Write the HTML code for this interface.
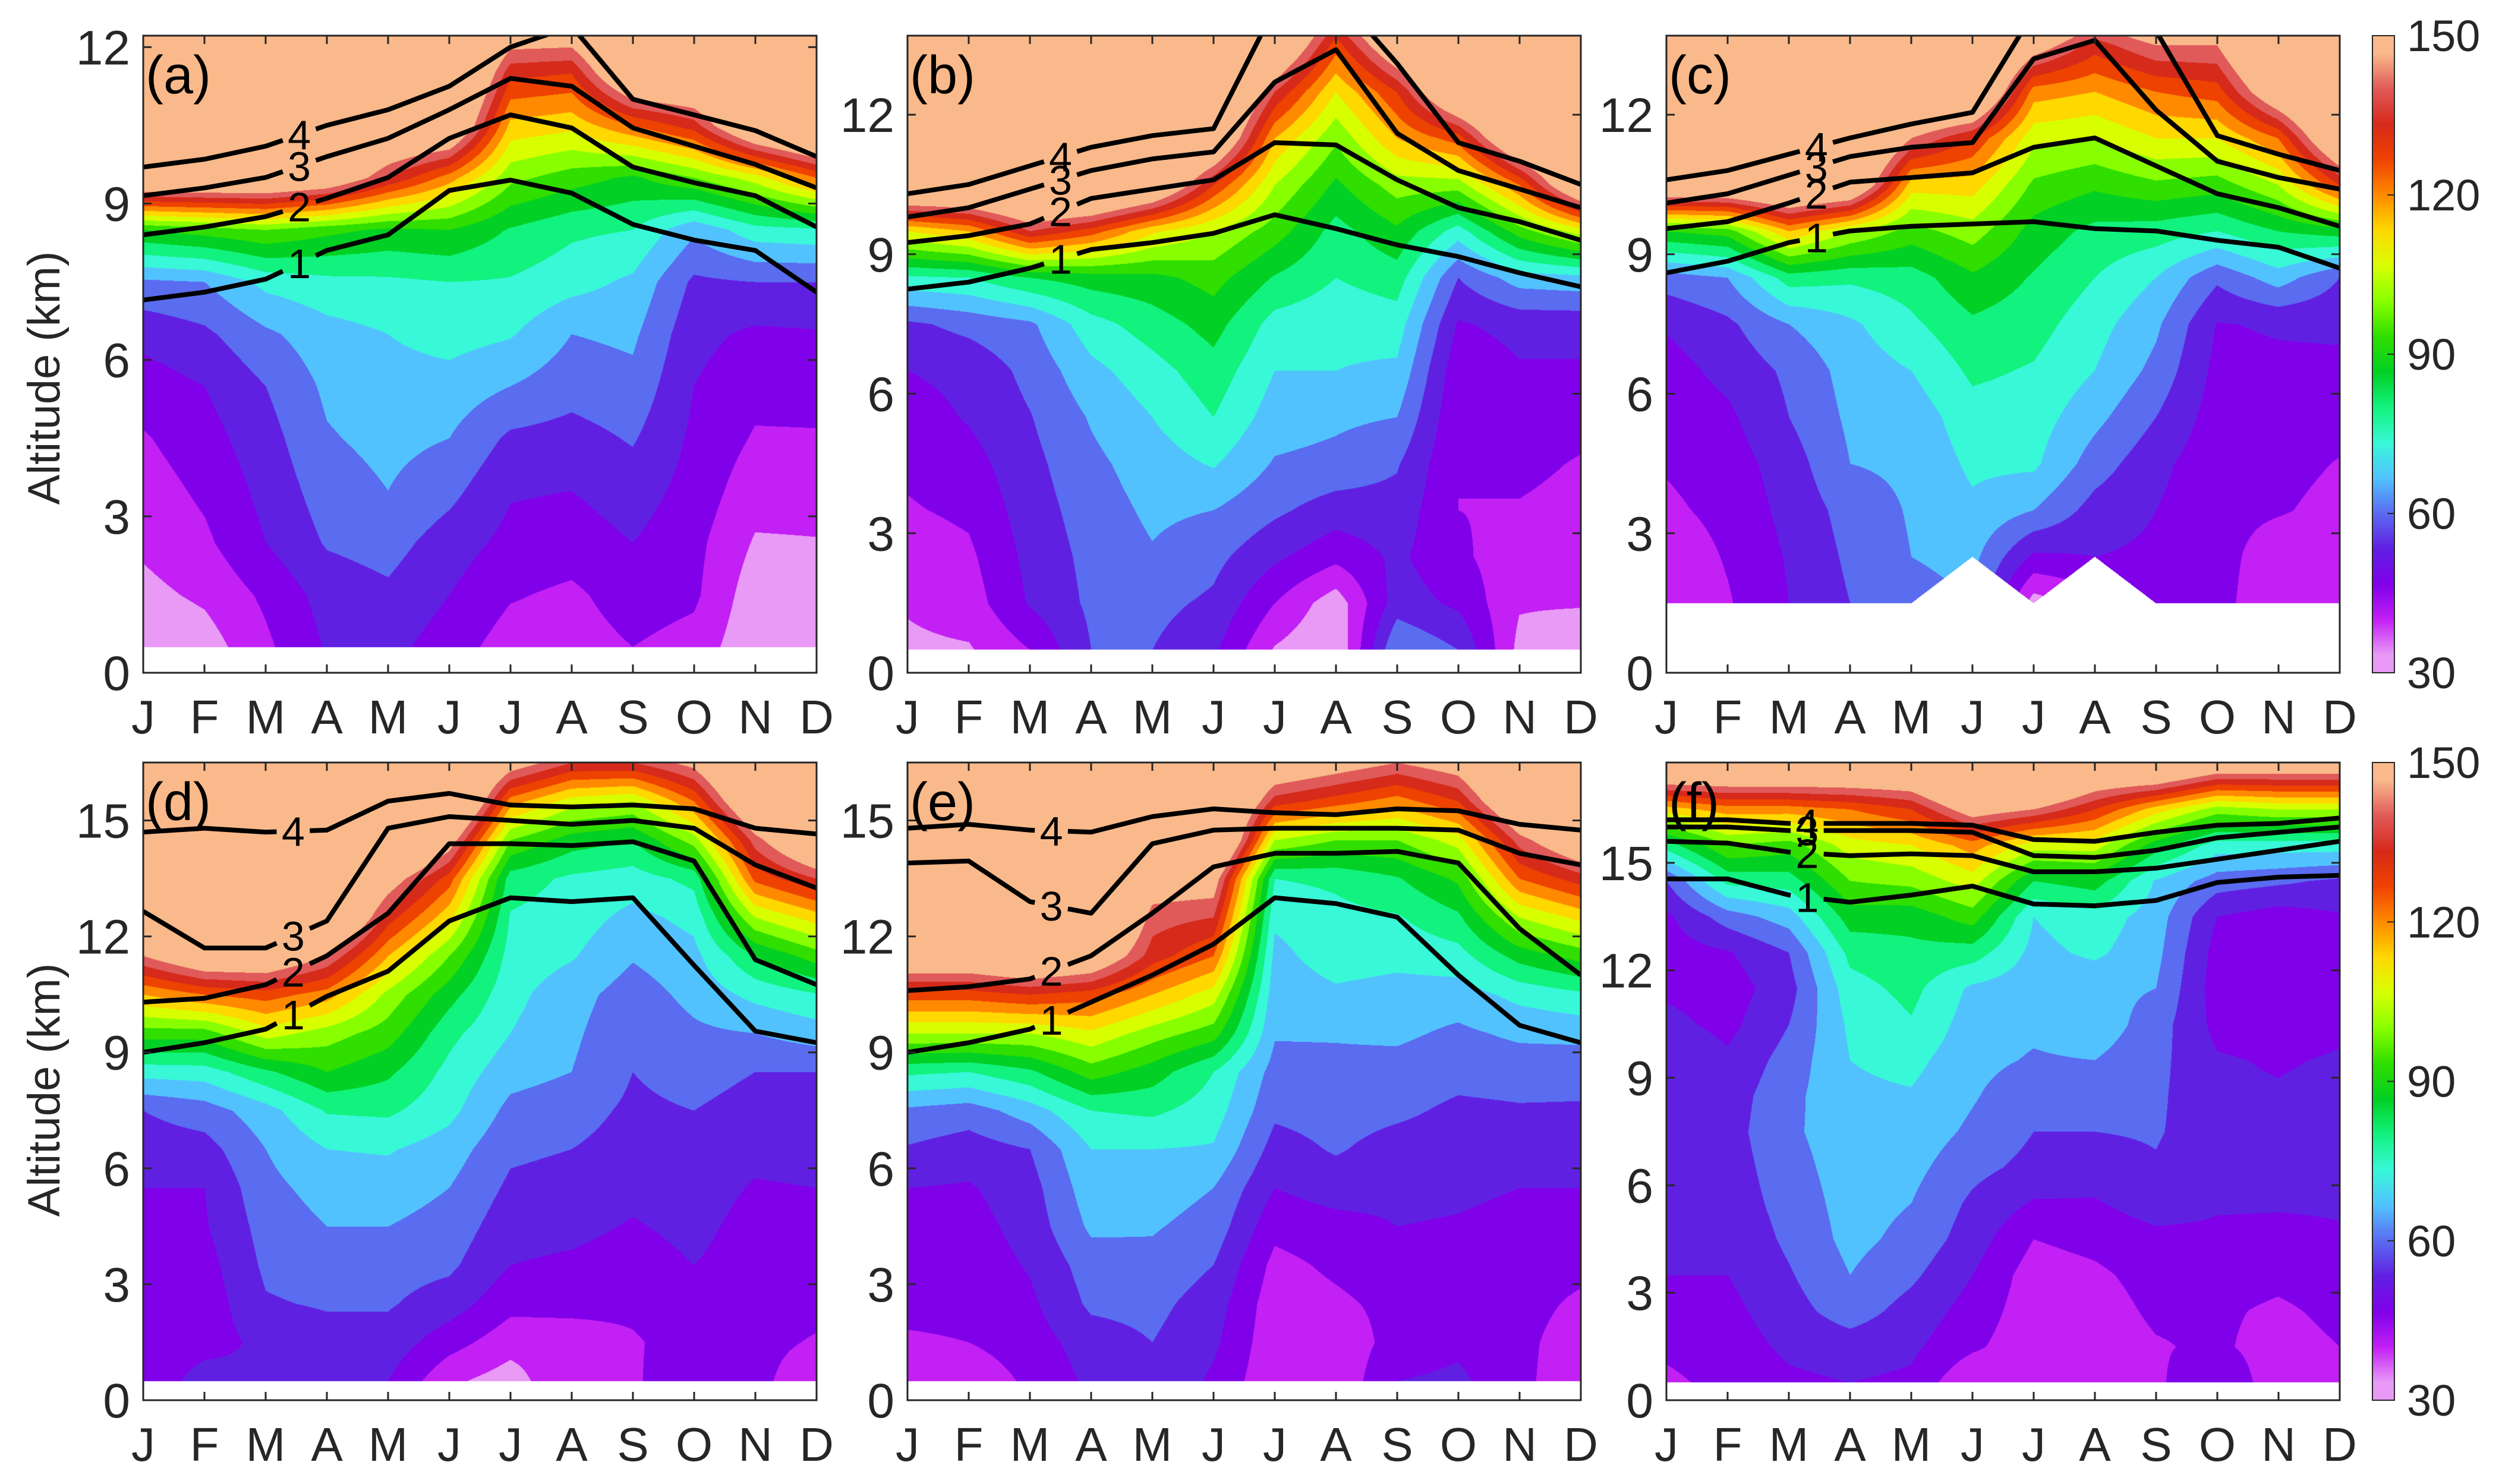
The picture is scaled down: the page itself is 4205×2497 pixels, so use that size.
<!DOCTYPE html>
<html><head><meta charset="utf-8">
<style>
html,body{margin:0;padding:0;background:#fff;}
#root{position:relative;width:4205px;height:2497px;overflow:hidden;background:#fff;font-family:"Liberation Sans",Arial,sans-serif;}
canvas{position:absolute;}
svg{position:absolute;left:0;top:0;}
</style></head>
<body>
<div id="root"></div>
<script>
// ---- data (ozone, in colour-band units: band k spans 30+6.67k .. 30+6.67(k+1) ppb) ----
const months = ['J','F','M','A','M','J','J','A','S','O','N','D'];
const cbTicks = [30,60,90,120,150];
const topTicks = [0,3,6,9,12];
const botTicks = [0,3,6,9,12,15];
const lineLabels = ['1','2','3','4'];

const altsA = [0.5,1.5,2.5,3.5,4.5,5.5,6.5,7.5,8.5,9.5,10.5,11.5,12.5];
const o3A = [
[0.0,0.7,1.2,1.5,1.9,2.5,3.3,4.8,9.0,20,22,22,22],
[0.5,1.2,1.8,2.2,2.6,3.0,3.8,5.0,9.5,20,22,22,22],
[1.8,2.2,3.0,3.3,3.6,4.0,4.8,6.3,10,20,22,22,22],
[3.1,3.4,4.1,4.5,4.9,5.2,5.6,6.7,9.3,19,22,22,22],
[3.3,3.8,4.4,5.0,5.3,5.6,6.0,6.8,8.8,16,20,22,22],
[2.5,3.0,3.5,4.3,5.0,5.6,6.4,7.0,9.0,13.5,20,22,22],
[1.5,2.1,2.7,3.1,3.8,5.0,6.1,6.9,7.9,10.3,12.7,15.3,19],
[1.5,1.8,2.5,3.0,3.6,4.4,5.0,6.4,7.2,9.5,12.3,15,19],
[2.0,2.5,3.0,3.5,4.1,4.7,5.2,5.8,7.0,8.8,14,20,22],
[1.6,2.2,2.3,2.6,2.8,3.0,3.3,3.8,5.2,10,15.5,20,22],
[0.2,0.4,0.9,1.4,1.9,2.3,2.8,4.0,6.6,11.5,20,22,22],
[0.2,0.5,0.95,1.4,1.9,2.4,2.9,4.0,6.8,14,22,22,22]];
const floorA = [0.5,0.5,0.5,0.5,0.5,0.5,0.5,0.5,0.5,0.5,0.5,0.5];
const tpA1 = [7.15,7.3,7.55,8.1,8.4,9.25,9.45,9.2,8.6,8.3,8.1,7.3];
const tpA2 = [8.4,8.55,8.75,9.1,9.5,10.25,10.7,10.45,9.7,9.4,9.15,8.55];
const tpA3 = [9.15,9.3,9.5,9.9,10.25,10.8,11.4,11.25,10.45,10.1,9.75,9.3];
const tpA4 = [9.7,9.85,10.1,10.5,10.8,11.25,12.0,12.4,11.0,10.7,10.4,9.9];

const altsB = [0.5,1.5,2.5,3.5,4.5,5.5,6.5,7.5,8.5,9.5,10.5,11.5,12.5,13.5,14.5];
const o3B = [
[0.8,1.1,1.4,1.9,2.2,2.5,3.0,3.8,6.8,12,21,22,22,22,22],
[0.9,1.5,1.8,2.2,2.6,3.1,3.3,4.3,7.0,13,21,22,22,22,22],
[2.0,3.1,3.3,3.5,3.7,3.95,4.3,4.8,8.0,16,22,22,22,22,22],
[4.0,4.2,4.3,4.5,4.75,5.1,5.7,6.6,8.5,14.5,22,22,22,22,22],
[4.0,4.3,4.9,5.2,5.5,6.0,6.6,7.5,8.7,12.2,20,22,22,22,22],
[3.2,3.8,4.3,5.0,6.1,7.0,7.6,8.4,9.4,11.0,15,20,22,22,22],
[0.9,2.0,3.2,4.2,4.9,5.5,6.0,6.6,7.9,9.5,11.0,13,16,20,22],
[0.0,0.4,2.3,3.5,4.7,5.2,6.0,6.3,7.0,7.6,8.8,10.2,12,14.5,18],
[5.0,3.5,3.2,3.6,4.1,5.0,5.8,6.5,7.5,8.8,10.5,13,15,19,22],
[4.0,2.8,2.2,2.0,2.0,2.1,2.3,2.9,4.0,6.5,10.5,14.5,20,22,22],
[0.7,1.1,1.4,1.9,2.3,2.6,2.9,3.3,5.5,9.5,14,20,22,22,22],
[0.1,1.1,1.3,1.6,1.9,2.4,2.9,3.3,5.7,11.5,20,22,22,22,22]];
const floorB = [0.5,0.5,0.5,0.5,0.5,0.5,0.5,0.5,0.5,0.5,0.5,0.5];
const tpB1 = [8.25,8.4,8.7,9.1,9.25,9.45,9.85,9.55,9.2,8.95,8.6,8.3];
const tpB2 = [9.25,9.4,9.65,10.2,10.4,10.6,11.4,11.35,10.6,10.0,9.7,9.3];
const tpB3 = [9.8,10.0,10.4,10.8,11.05,11.2,12.7,13.4,11.6,10.8,10.4,10.0];
const tpB4 = [10.3,10.5,10.9,11.3,11.55,11.7,14.3,14.6,13.1,11.4,11.0,10.5];

const altsC = [0.5,1.5,2.5,3.5,4.5,5.5,6.5,7.5,8.5,9.5,10.5,11.5,12.5,13.5,14.5];
const o3C = [
[1.0,1.0,1.3,1.8,2.1,2.3,2.6,3.1,4.5,9.0,20,22,22,22,22],
[1.9,1.9,2.1,2.3,2.5,2.8,3.3,3.8,5.0,9.5,20,22,22,22,22],
[3.0,3.0,3.1,3.3,3.5,4.0,4.2,5.0,7.5,13,21,22,22,22,22],
[4.0,4.0,4.2,4.4,5.0,5.2,5.4,5.8,7.2,11,20,22,22,22,22],
[4.6,4.6,5.0,5.1,5.2,5.4,6.0,6.8,7.5,9.6,12.5,17,21,22,22],
[5.0,5.0,5.3,5.8,6.2,6.6,7.2,7.8,8.8,10.5,12.5,15,21,22,22],
[0.5,0.5,2.8,5.0,6.2,6.5,6.9,7.4,7.9,8.6,9.8,11.3,13.5,18,22],
[1.5,1.5,3.0,3.6,4.5,5.3,6.0,6.4,7.0,7.7,9.2,11.0,13.0,15.5,19],
[2.0,2.0,2.8,3.0,3.3,4.0,4.7,5.2,6.0,7.5,9.8,12,14,17,21],
[2.4,2.4,2.4,2.3,2.3,2.5,2.7,2.95,4.2,7.0,9.5,12,14.5,17,21],
[1.1,1.1,1.4,2.1,2.3,2.5,2.8,3.1,5.5,8.0,11,14,19,22,22],
[1.3,1.3,1.5,1.7,1.95,2.3,2.75,3.2,4.0,8.5,15,20,22,22,22]];
const floorC = [1.5,1.5,1.5,1.5,1.5,2.5,1.5,2.5,1.5,1.5,1.5,1.5];
const tpC1 = [8.6,8.85,9.25,9.5,9.6,9.65,9.7,9.55,9.5,9.3,9.15,8.7];
const tpC2 = [9.55,9.7,10.1,10.55,10.65,10.75,11.3,11.5,10.9,10.3,10.0,9.6];
const tpC3 = [10.1,10.3,10.7,11.1,11.3,11.4,13.2,13.6,12.1,11.0,10.65,10.4];
const tpC4 = [10.6,10.8,11.15,11.5,11.8,12.05,14.2,15.0,13.8,11.55,11.15,10.8];

const altsD = [0.5,1.5,2.5,3.5,4.5,5.5,6.5,7.5,8.5,9.5,10.5,11.5,12.5,13.5,14.5,15.5,16.5,17.5];
const o3D = [
[2.0,2.2,2.3,2.4,2.6,3.0,3.5,4.0,6.4,9.5,13,17,21,22,22,22,22,22],
[3.6,2.5,2.4,2.6,2.9,3.0,3.6,4.5,6.5,9.5,14,19,22,22,22,22,22,22],
[3.1,3.3,3.9,4.2,4.4,4.7,5.0,5.6,7.8,11.5,14.5,19,22,22,22,22,22,22],
[3.3,3.6,4.1,4.5,5.0,5.4,6.0,7.1,9.0,10.5,13.5,17,21,22,22,22,22,22],
[3.0,3.6,4.1,4.4,5.0,5.5,6.1,7.2,8.2,9.5,10.7,13,15.5,18,22,22,22,22],
[1.2,2.4,3.5,4.2,4.6,5.0,5.5,6.3,6.7,7.3,8.4,10,12.3,14.5,18,22,22,22],
[0.5,1.4,2.3,3.0,3.4,3.8,4.2,4.7,5.4,6.0,6.3,6.6,6.9,7.5,10,13.5,18,22],
[2.0,1.5,2.3,2.8,3.3,3.6,4.0,4.4,5.0,5.2,5.4,6.1,6.5,6.8,8.5,11.5,16,20],
[1.8,1.9,2.2,2.5,2.9,3.3,3.6,3.8,4.0,4.2,4.5,5.1,5.7,6.5,8,11,16,20],
[3.0,2.4,2.5,3.0,3.3,3.5,3.7,4.0,4.4,4.8,5.3,5.7,6.3,7.3,10.5,14,17.5,21],
[2.3,2.3,2.4,2.5,2.6,2.9,3.3,3.6,4.0,5.0,6.3,8.0,11,14.3,16.5,20,22,22],
[1.3,1.9,2.3,2.5,2.7,3.0,3.4,3.8,4.0,5.5,6.9,9.5,12.5,16,20,22,22,22]];
const floorD = [0.5,0.5,0.5,0.5,0.5,0.5,0.5,0.5,0.5,0.5,0.5,0.5];
const tpD1 = [9.0,9.25,9.6,10.45,11.1,12.4,13.0,12.9,13.0,11.25,9.55,9.25];
const tpD2 = [10.3,10.4,10.75,11.5,12.6,14.4,14.4,14.35,14.45,13.95,11.4,10.75];
const tpD3 = [12.65,11.7,11.7,12.4,14.8,15.1,15.0,14.9,15.0,14.8,13.85,13.25];
const tpD4 = [14.7,14.8,14.7,14.75,15.5,15.7,15.4,15.35,15.4,15.3,14.8,14.65];

const altsE = [0.5,1.5,2.5,3.5,4.5,5.5,6.5,7.5,8.5,9.5,10.5,11.5,12.5,13.5,14.5,15.5,16.5,17.5];
const o3E = [
[1.3,1.9,2.2,2.4,2.6,3.0,3.9,4.8,7.2,11,14.5,19,22,22,22,22,22,22],
[1.3,2.0,2.2,2.4,2.6,2.9,3.5,4.5,7.0,11,14.5,19,22,22,22,22,22,22],
[2.2,2.5,2.8,3.1,3.4,3.6,4.0,5.5,7.8,11,15,20,22,22,22,22,22,22],
[3.2,3.5,4.2,4.5,5.2,5.6,6.0,7.0,9.5,11.8,14.5,19,22,22,22,22,22,22],
[4.0,4.0,4.3,4.7,5.1,5.5,6.0,7.2,8.5,10.5,13,15.5,16.5,18,22,22,22,22],
[2.8,3.2,3.5,4.0,4.6,5.0,5.9,6.5,7.0,9.5,11.5,14,16,18,22,22,22,22],
[1.2,1.3,1.4,1.7,2.3,3.0,3.6,4.2,4.6,5.1,5.4,5.7,6.2,7.0,11,15.5,19,22],
[1.2,1.3,1.8,2.2,2.6,3.5,4.1,4.4,4.7,5.1,5.8,6.5,6.7,7.2,10,14.5,18,21],
[3.0,2.4,2.3,2.6,3.0,3.3,3.6,4.2,4.6,5.2,5.6,6.3,6.9,7.9,10,13.5,17,21],
[3.2,2.8,2.4,2.5,2.9,3.2,3.5,3.8,4.3,4.8,5.5,6.6,7.8,9.2,11.5,15,18,21],
[2.3,2.3,2.4,2.5,2.7,3.0,3.4,3.9,4.4,5.2,6.3,8.4,11,14,16.5,20,22,22],
[1.2,1.4,1.8,2.3,2.6,3.0,3.4,3.9,4.3,5.3,6.8,9.4,12.3,15.5,19,22,22,22]];
const floorE = [0.5,0.5,0.5,0.5,0.5,0.5,0.5,0.5,0.5,0.5,0.5,0.5];
const tpE1 = [9.0,9.25,9.6,10.3,11.0,11.8,13.0,12.85,12.5,11.0,9.7,9.25];
const tpE2 = [10.6,10.7,10.9,11.5,12.6,13.8,14.15,14.15,14.2,13.9,12.2,11.0];
const tpE3 = [13.9,13.95,12.9,12.6,14.4,14.75,14.8,14.8,14.8,14.75,14.15,13.85];
const tpE4 = [14.8,14.9,14.75,14.7,15.1,15.3,15.2,15.15,15.3,15.25,14.9,14.75];

const altsF = [0.5,1.5,2.5,3.5,4.5,5.5,6.5,7.5,8.5,9.5,10.5,11.5,12.5,13.5,14.5,15.5,16.5,17.5,18.5];
const o3F = [
[1.8,2.2,2.5,3.0,3.1,3.2,3.2,3.3,3.5,3.9,3.3,2.8,2.5,2.8,4.0,7.5,12.5,19,22],
[2.3,2.5,2.7,3.0,3.2,3.4,3.5,3.6,3.5,3.2,2.7,2.5,2.9,4.5,7.3,10,13.5,19,22],
[2.8,3.2,3.6,3.9,4.2,4.4,4.6,4.8,4.7,4.4,4.0,3.6,4.0,5.5,7.5,9.5,13.5,19,22],
[3.0,3.5,4.5,5.0,5.3,5.4,5.5,5.6,5.8,6.0,6.2,6.6,7.3,8.5,10,11.5,14,19,22],
[2.8,3.2,3.6,4.2,4.7,5.0,5.3,5.6,5.9,6.3,6.9,7.3,7.7,8.4,10.3,12,15,19,22],
[1.0,2.2,2.6,3.0,3.5,3.8,4.3,4.8,5.1,5.3,5.5,5.8,7.5,9.5,11.5,13.5,18,22,22],
[1.2,1.3,1.4,1.5,2.0,2.9,3.7,4.0,4.3,4.9,5.2,5.4,5.7,6.0,8.0,11.5,17,22,22],
[1.2,1.3,1.5,1.8,2.3,2.9,3.5,4.0,4.7,5.0,5.6,5.3,6.2,6.6,8.5,11.5,15,19,22],
[1.8,1.9,2.2,2.4,2.7,3.5,3.9,4.1,4.2,4.3,4.5,5.0,5.3,5.5,5.9,8.5,12.5,19,22],
[3.0,2.2,2.2,2.5,2.8,3.1,3.3,3.4,3.2,3.1,2.7,2.5,2.6,3.0,4.5,6.5,10.5,17,22],
[1.3,1.5,1.8,2.3,2.7,3.1,3.2,3.2,3.1,2.9,2.5,2.2,2.2,2.5,4.2,6.5,11,17,22],
[1.4,2.0,2.3,2.6,2.9,3.1,3.2,3.3,3.3,3.1,2.8,2.5,2.6,2.9,3.8,6.5,11,17,22]];
const floorF = [0.5,0.5,0.5,0.5,0.5,0.5,0.5,0.5,0.5,0.5,0.5,0.5];
const tpF1 = [14.55,14.55,14.1,13.9,14.1,14.35,13.85,13.8,13.95,14.45,14.6,14.65];
const tpF2 = [15.6,15.55,15.3,15.2,15.25,15.2,14.75,14.75,14.85,15.1,15.35,15.6];
const tpF3 = [16.0,16.0,15.9,15.9,15.9,15.85,15.2,15.15,15.35,15.7,15.85,16.0];
const tpF4 = [16.2,16.2,16.1,16.1,16.1,16.05,15.65,15.6,15.85,16.05,16.1,16.25];

const bandColors = ['#E89AF6','#C220F4','#8000EA','#6020E2','#5A6CF0','#52C2FF','#38F8D8','#12F27E','#02D024','#30DE00','#88FF00','#D8FF00','#FFD800','#FF8A00','#EE4200','#D62A1A','#E05A5A','#F9B98A'];

const panels = [
 {key:'a', x:241, y:60, w:1133, h:1072, ymax:12.22, ticks:topTicks, alts:altsA, o3:o3A, floor:floorA, tp:[tpA1,tpA2,tpA3,tpA4], lab:2.55},
 {key:'b', x:1527, y:60, w:1133, h:1072, ymax:13.7, ticks:topTicks, alts:altsB, o3:o3B, floor:floorB, tp:[tpB1,tpB2,tpB3,tpB4], lab:2.5},
 {key:'c', x:2804, y:60, w:1133, h:1072, ymax:13.7, ticks:topTicks, alts:altsC, o3:o3C, floor:floorC, tp:[tpC1,tpC2,tpC3,tpC4], lab:2.45},
 {key:'d', x:241, y:1283, w:1133, h:1073, ymax:16.5, ticks:botTicks, alts:altsD, o3:o3D, floor:floorD, tp:[tpD1,tpD2,tpD3,tpD4], lab:2.45},
 {key:'e', x:1527, y:1283, w:1133, h:1073, ymax:16.5, ticks:botTicks, alts:altsE, o3:o3E, floor:floorE, tp:[tpE1,tpE2,tpE3,tpE4], lab:2.35},
 {key:'f', x:2804, y:1283, w:1133, h:1073, ymax:17.8, ticks:botTicks, alts:altsF, o3:o3F, floor:floorF, tp:[tpF1,tpF2,tpF3,tpF4], lab:2.3}
];

const NS = 'http://www.w3.org/2000/svg';
const root = document.getElementById('root');
function hex(c){return [parseInt(c.slice(1,3),16),parseInt(c.slice(3,5),16),parseInt(c.slice(5,7),16)];}
const rgb = bandColors.map(hex);

function lerpArr(arr, m){ const i=Math.min(10,Math.floor(m)); const t=m-i; return arr[i]*(1-t)+arr[i+1]*t; }

// --- filled contours on canvas ---
panels.forEach(p=>{
  const cv=document.createElement('canvas');
  cv.width=p.w; cv.height=p.h;
  cv.style.left=p.x+'px'; cv.style.top=p.y+'px';
  
  
  root.appendChild(cv);
  const ctx=cv.getContext('2d');
  const img=ctx.createImageData(p.w,p.h);
  const d=img.data;
  const a0=p.alts[0], da=p.alts[1]-p.alts[0], na=p.alts.length;
  for(let i=0;i<p.w;i++){
    const m=i/(p.w-1)*11;
    const mi=Math.min(10,Math.floor(m)), mt=m-mi;
    const fl=lerpArr(p.floor,m);
    const c0=p.o3[mi], c1=p.o3[mi+1];
    for(let j=0;j<p.h;j++){
      const alt=(p.h-j)/p.h*p.ymax;
      const o=(j*p.w+i)*4;
      if(alt<fl){d[o]=255;d[o+1]=255;d[o+2]=255;d[o+3]=255;continue;}
      let k=(alt-a0)/da; if(k<0)k=0; if(k>na-1.0001)k=na-1.0001;
      const ki=Math.floor(k), kt=k-ki;
      const v0=c0[ki]*(1-kt)+c0[ki+1]*kt;
      const v1=c1[ki]*(1-kt)+c1[ki+1]*kt;
      const v=v0*(1-mt)+v1*mt;
      let b=Math.floor(v); if(b<0)b=0; if(b>17)b=17;
      const c=rgb[b];
      d[o]=c[0];d[o+1]=c[1];d[o+2]=c[2];d[o+3]=255;
    }
  }
  ctx.putImageData(img,0,0);
});

// --- SVG overlay ---
const svg=document.createElementNS(NS,'svg');
svg.setAttribute('width','4205'); svg.setAttribute('height','2497');


root.appendChild(svg);
function el(tag,attrs,parent){const e=document.createElementNS(NS,tag);for(const k in attrs)e.setAttribute(k,attrs[k]);(parent||svg).appendChild(e);return e;}

const defs=el('defs',{});
const grad=el('linearGradient',{id:'cbgrad',x1:'0',y1:'1',x2:'0',y2:'0'},defs);
bandColors.forEach((c,i)=>{el('stop',{offset:((i+0.5)/18).toFixed(4),'stop-color':c},grad);});

panels.forEach(p=>{
  const X=m=>p.x+m*p.w/11;
  const Y=a=>p.y+p.h-a/p.ymax*p.h;
  const g=el('g',{});
  
  
  const cp=el('clipPath',{id:'clip'+p.key},defs);
  el('rect',{x:p.x,y:p.y,width:p.w,height:p.h},cp);
  const lg=el('g',{'clip-path':'url(#clip'+p.key+')'},g);
  p.tp.forEach((arr,li)=>{
    const gap=0.27;
    const segA=[],segB=[];
    for(let m=0;m<12;m++){ if(m<p.lab-gap) segA.push([X(m),Y(arr[m])]); if(m>p.lab+gap) segB.push([X(m),Y(arr[m])]); }
    const ya=lerpArr(arr,p.lab-gap), yb=lerpArr(arr,p.lab+gap);
    segA.push([X(p.lab-gap),Y(ya)]); segB.unshift([X(p.lab+gap),Y(yb)]);
    [segA,segB].forEach((s,si)=>{
      const pl=el('polyline',{points:s.map(q=>q[0].toFixed(1)+','+q[1].toFixed(1)).join(' '),fill:'none',stroke:'#000','stroke-width':8,'stroke-linejoin':'round'},lg);
      
      
    });
    const t=el('text',{x:X(p.lab),y:Y(lerpArr(arr,p.lab))+25,'text-anchor':'middle','font-size':70,fill:'#000'},lg);
    t.textContent=lineLabels[li];
    
    
  });
  const fr=el('rect',{x:p.x,y:p.y,width:p.w,height:p.h,fill:'none',stroke:'#262626','stroke-width':3},g);
  
  
  for(let m=0;m<12;m++){
    el('line',{x1:X(m),x2:X(m),y1:p.y+p.h,y2:p.y+p.h-14,stroke:'#262626','stroke-width':3},g);
    el('line',{x1:X(m),x2:X(m),y1:p.y,y2:p.y+14,stroke:'#262626','stroke-width':3},g);
    const t=el('text',{x:X(m),y:p.y+p.h+102,'text-anchor':'middle','font-size':80,fill:'#262626'},g);
    t.textContent=months[m];
    
    
  }
  p.ticks.forEach(v=>{
    el('line',{x1:p.x,x2:p.x+14,y1:Y(v),y2:Y(v),stroke:'#262626','stroke-width':3},g);
    el('line',{x1:p.x+p.w,x2:p.x+p.w-14,y1:Y(v),y2:Y(v),stroke:'#262626','stroke-width':3},g);
    const t=el('text',{x:p.x-22,y:Y(v)+29,'text-anchor':'end','font-size':82,fill:'#262626'},g);
    t.textContent=String(v);
    
    
  });
  const pl=el('text',{x:p.x+4,y:p.y+97,'font-size':90,fill:'#000'},g);
  pl.textContent='('+p.key+')';
  
  
});

[[60,1132],[1283,2356]].forEach((r,ci)=>{
  const g=el('g',{});
  
  
  el('rect',{x:3992,y:r[0],width:37,height:r[1]-r[0],fill:'url(#cbgrad)',stroke:'#262626','stroke-width':2},g);
  cbTicks.forEach(v=>{
    const y=r[1]-(v-30)/120*(r[1]-r[0]);
    if(v>30&&v<150) el('line',{x1:4017,x2:4029,y1:y,y2:y,stroke:'#262626','stroke-width':2},g);
    const t=el('text',{x:4050,y:y+26,'font-size':74,fill:'#262626'},g);
    t.textContent=String(v);
    
    
  });
});

[636,1834].forEach(cy=>{
  const t=el('text',{x:0,y:0,transform:'translate(100,'+cy+') rotate(-90)','text-anchor':'middle','font-size':76,fill:'#262626'});
  t.textContent='Altitude (km)';
  
  
});
</script>
</body></html>
